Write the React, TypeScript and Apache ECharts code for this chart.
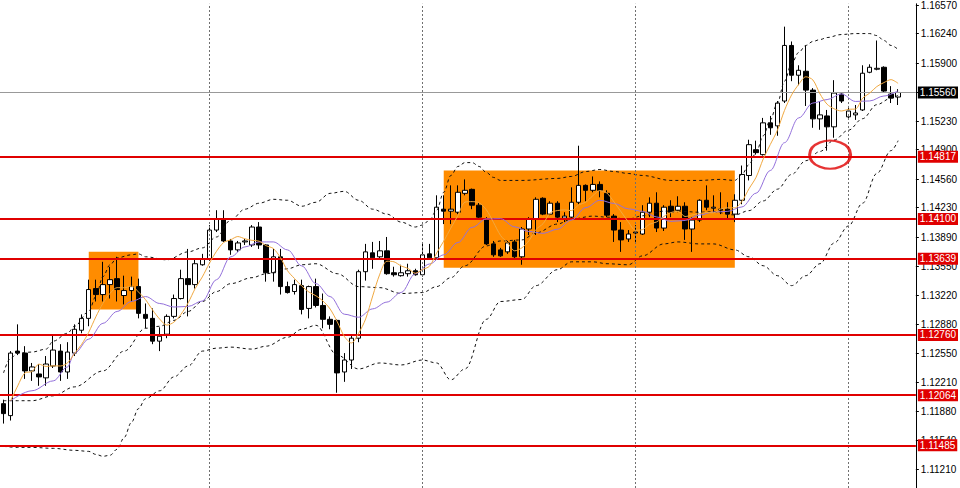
import React, { useEffect, useRef } from 'react';
import * as echarts from 'echarts';

const opens = [
  1.11966, 1.11828, 1.12573, 1.12550, 1.12344, 1.12309, 1.12264, 1.12401, 1.12573, 1.12332,
  1.12550, 1.12814, 1.12951, 1.13295, 1.13226, 1.13341, 1.13410, 1.13215, 1.13272, 1.13318,
  1.12997, 1.12951, 1.12688, 1.12768, 1.12974, 1.13180, 1.13410, 1.13341, 1.13570, 1.13639,
  1.13971, 1.14097, 1.13845, 1.13742, 1.13834, 1.13799, 1.14006, 1.13799, 1.13478, 1.13662,
  1.13318, 1.13261, 1.13329, 1.13066, 1.13318, 1.13100, 1.12940, 1.12928, 1.12332, 1.12470,
  1.12722, 1.13490, 1.13708, 1.13662, 1.13731, 1.13478, 1.13444, 1.13467, 1.13501, 1.13455,
  1.13696, 1.13650, 1.14212, 1.14189, 1.14177, 1.14395, 1.14441, 1.14258, 1.14097, 1.13811,
  1.13742, 1.13719, 1.13834, 1.13662, 1.13983, 1.14097, 1.14338, 1.14155, 1.14281, 1.14109,
  1.14120, 1.14292, 1.14487, 1.14430, 1.14498, 1.14395, 1.14132, 1.13971, 1.13868, 1.13937,
  1.13925, 1.14177, 1.14281, 1.13994, 1.14246, 1.14200, 1.14246, 1.13983, 1.14086, 1.14315,
  1.14223, 1.14212, 1.14212, 1.14155, 1.14315, 1.14601, 1.14899, 1.14842, 1.15209, 1.15174,
  1.15461, 1.16103, 1.15759, 1.15805, 1.15587, 1.15255, 1.15289, 1.15163, 1.15541, 1.15278,
  1.15301, 1.15358, 1.15793, 1.15828, 1.15851, 1.15541, 1.15507,
];
const closes = [
  1.11851, 1.12550, 1.12550, 1.12344, 1.12390, 1.12275, 1.12424, 1.12585, 1.12332, 1.12562,
  1.12825, 1.12951, 1.13284, 1.13226, 1.13341, 1.13398, 1.13284, 1.13272, 1.13318, 1.13009,
  1.12951, 1.12688, 1.12745, 1.12974, 1.13180, 1.13410, 1.13341, 1.13582, 1.13639, 1.13971,
  1.14097, 1.13845, 1.13742, 1.13822, 1.13845, 1.14006, 1.13799, 1.13478, 1.13662, 1.13318,
  1.13249, 1.13341, 1.13054, 1.13318, 1.13100, 1.12940, 1.12882, 1.12321, 1.12470, 1.12722,
  1.13490, 1.13719, 1.13650, 1.13731, 1.13467, 1.13455, 1.13478, 1.13501, 1.13455, 1.13685,
  1.13650, 1.14235, 1.14189, 1.14212, 1.14407, 1.14430, 1.14258, 1.14120, 1.13811, 1.13685,
  1.13673, 1.13822, 1.13662, 1.13983, 1.14097, 1.14326, 1.14155, 1.14281, 1.14120, 1.14132,
  1.14292, 1.14487, 1.14430, 1.14498, 1.14430, 1.14143, 1.13971, 1.13857, 1.13925, 1.13948,
  1.14177, 1.14281, 1.13994, 1.14235, 1.14177, 1.14246, 1.13983, 1.14086, 1.14315, 1.14235,
  1.14235, 1.14200, 1.14155, 1.14315, 1.14613, 1.14957, 1.14865, 1.15209, 1.15152, 1.15438,
  1.16103, 1.15759, 1.15816, 1.15587, 1.15255, 1.15301, 1.15163, 1.15553, 1.15461, 1.15346,
  1.15323, 1.15782, 1.15851, 1.15839, 1.15576, 1.15495, 1.15560,
];
const lows = [
  1.11736, 1.11771, 1.12527, 1.12252, 1.12229, 1.12172, 1.12172, 1.12378, 1.12229, 1.12252,
  1.12516, 1.12779, 1.12860, 1.13146, 1.13146, 1.13180, 1.13146, 1.13112, 1.13146, 1.12951,
  1.12837, 1.12653, 1.12573, 1.12722, 1.12951, 1.13169, 1.12974, 1.13295, 1.13559, 1.13616,
  1.13948, 1.13834, 1.13685, 1.13719, 1.13799, 1.13776, 1.13753, 1.13375, 1.13375, 1.13226,
  1.13238, 1.13226, 1.12997, 1.12951, 1.13077, 1.12837, 1.12825, 1.12092, 1.12218, 1.12367,
  1.12676, 1.13387, 1.13524, 1.13639, 1.13455, 1.13433, 1.13433, 1.13433, 1.13444, 1.13433,
  1.13627, 1.13639, 1.14040, 1.14040, 1.14155, 1.14372, 1.14212, 1.14097, 1.13799, 1.13662,
  1.13662, 1.13696, 1.13639, 1.13570, 1.13914, 1.13914, 1.14143, 1.14143, 1.14063, 1.14063,
  1.14097, 1.14269, 1.14304, 1.14407, 1.14349, 1.14120, 1.13834, 1.13719, 1.13834, 1.13834,
  1.13914, 1.14120, 1.13948, 1.13960, 1.14120, 1.14177, 1.13857, 1.13719, 1.14063, 1.14200,
  1.14177, 1.14155, 1.14097, 1.14063, 1.14269, 1.14544, 1.14842, 1.14831, 1.15071, 1.15060,
  1.15438, 1.15690, 1.15644, 1.15404, 1.15152, 1.15129, 1.14888, 1.15037, 1.15438, 1.15243,
  1.15243, 1.15346, 1.15782, 1.15816, 1.15564, 1.15438, 1.15415,
];
const highs = [
  1.12012, 1.12573, 1.12882, 1.12630, 1.12436, 1.12424, 1.12516, 1.12768, 1.12653, 1.12676,
  1.12882, 1.12997, 1.13398, 1.13398, 1.13604, 1.13547, 1.13662, 1.13444, 1.13433, 1.13410,
  1.13123, 1.13066, 1.12848, 1.12997, 1.13226, 1.13513, 1.13753, 1.13639, 1.13696, 1.14028,
  1.14200, 1.14200, 1.13868, 1.13845, 1.13868, 1.14028, 1.14063, 1.13810, 1.13753, 1.13753,
  1.13375, 1.13398, 1.13398, 1.13329, 1.13410, 1.13238, 1.12974, 1.12940, 1.12550, 1.12756,
  1.13513, 1.13811, 1.13834, 1.13845, 1.13891, 1.13547, 1.13570, 1.13582, 1.13524, 1.13811,
  1.13811, 1.14372, 1.14372, 1.14487, 1.14487, 1.14556, 1.14450, 1.14292, 1.14120, 1.13845,
  1.13765, 1.13845, 1.13857, 1.14006, 1.14120, 1.14349, 1.14349, 1.14304, 1.14304, 1.14177,
  1.14464, 1.14945, 1.14498, 1.14590, 1.14533, 1.14430, 1.14155, 1.14063, 1.13971, 1.14028,
  1.14258, 1.14349, 1.14407, 1.14258, 1.14315, 1.14361, 1.14292, 1.14120, 1.14326, 1.14487,
  1.14372, 1.14407, 1.14292, 1.14384, 1.14716, 1.15014, 1.15003, 1.15266, 1.15289, 1.15461,
  1.16320, 1.16149, 1.15874, 1.16103, 1.15610, 1.15461, 1.15358, 1.15702, 1.15553, 1.15404,
  1.15415, 1.15874, 1.15885, 1.16160, 1.15862, 1.15633, 1.15598,
];

// fast moving average (orange), one value per candle
const maFast = [
  null, 1.12000, 1.12172, 1.12321, 1.12337, 1.12422, 1.12396, 1.12403, 1.12401, 1.12436,
  1.12545, 1.12651, 1.12791, 1.12969, 1.13125, 1.13240, 1.13306, 1.13304, 1.13323, 1.13256,
  1.13167, 1.13047, 1.12942, 1.12873, 1.12908, 1.12999, 1.13130, 1.13297, 1.13430, 1.13588,
  1.13726, 1.13827, 1.13859, 1.13896, 1.13870, 1.13852, 1.13843, 1.13790, 1.13758, 1.13653,
  1.13501, 1.13410, 1.13325, 1.13256, 1.13212, 1.13151, 1.13059, 1.12912, 1.12743, 1.12667,
  1.12777, 1.12944, 1.13210, 1.13462, 1.13611, 1.13604, 1.13556, 1.13527, 1.13472, 1.13515,
  1.13554, 1.13705, 1.13843, 1.13994, 1.14138, 1.14294, 1.14299, 1.14285, 1.14205, 1.14061,
  1.13909, 1.13822, 1.13731, 1.13765, 1.13847, 1.13978, 1.14045, 1.14168, 1.14196, 1.14203,
  1.14196, 1.14262, 1.14292, 1.14368, 1.14427, 1.14397, 1.14294, 1.14180, 1.14065, 1.13969,
  1.13976, 1.14038, 1.14065, 1.14127, 1.14173, 1.14187, 1.14127, 1.14145, 1.14161, 1.14173,
  1.14170, 1.14214, 1.14228, 1.14228, 1.14303, 1.14448, 1.14581, 1.14792, 1.14959, 1.15124,
  1.15353, 1.15532, 1.15653, 1.15741, 1.15704, 1.15543, 1.15424, 1.15371, 1.15346, 1.15365,
  1.15369, 1.15493, 1.15553, 1.15628, 1.15674, 1.15708, 1.15665,
];

// slow moving average (purple), [candle index, value]
const maSlow = [
  [1, 1.12000], [4, 1.12115], [7, 1.12229], [9, 1.12390], [10, 1.12550], [12, 1.12711],
  [14, 1.12894], [16, 1.13031], [18, 1.13146], [20, 1.13203], [22, 1.13123], [24, 1.13082],
  [26, 1.13089], [28, 1.13152], [30, 1.13398], [32, 1.13662], [34, 1.13776], [36, 1.13834],
  [38, 1.13834], [40, 1.13742], [42, 1.13557], [44, 1.13352], [46, 1.13203], [48, 1.12999],
  [50, 1.12964], [52, 1.13061], [54, 1.13139], [56, 1.13250], [58, 1.13467], [60, 1.13579],
  [62, 1.13685], [64, 1.13827], [66, 1.14002], [68, 1.14099], [70, 1.14102], [72, 1.14008],
  [74, 1.13954], [76, 1.13933], [78, 1.13980], [80, 1.14087], [82, 1.14230], [84, 1.14315],
  [86, 1.14278], [88, 1.14216], [90, 1.14187], [92, 1.14122], [94, 1.14071], [96, 1.14082],
  [98, 1.14144], [100, 1.14179], [102, 1.14187], [104, 1.14238], [106, 1.14397], [108, 1.14659],
  [110, 1.14980], [112, 1.15266], [114, 1.15438], [116, 1.15478], [118, 1.15543], [120, 1.15456],
  [122, 1.15462], [124, 1.15519], [126, 1.15579],
];

// Bollinger bands, [candle index, value]
const bbUpper = [
  [0, 1.12321], [1, 1.12493], [2, 1.12550], [4, 1.12562], [6, 1.12596], [7, 1.12688], [9, 1.12779],
  [10, 1.12860], [12, 1.13031], [13, 1.13203], [14, 1.13433], [15, 1.13570], [16, 1.13650],
  [18, 1.13685], [19, 1.13696], [20, 1.13662], [23, 1.13627], [26, 1.13719], [28, 1.13765],
  [30, 1.13891], [32, 1.14086], [34, 1.14212], [36, 1.14281], [38, 1.14326], [40, 1.14315],
  [42, 1.14246], [44, 1.14292], [46, 1.14395], [48, 1.14418], [50, 1.14315], [52, 1.14212],
  [54, 1.14155], [56, 1.14063], [58, 1.14006], [59, 1.14028], [60, 1.14086], [61, 1.14200],
  [62, 1.14407], [63, 1.14601], [64, 1.14705], [65, 1.14750], [66, 1.14750], [67, 1.14705],
  [68, 1.14636], [69, 1.14579], [70, 1.14544], [73, 1.14544], [78, 1.14567], [80, 1.14590],
  [82, 1.14647], [84, 1.14670], [86, 1.14647], [88, 1.14624], [90, 1.14601], [94, 1.14544],
  [98, 1.14544], [101, 1.14556], [103, 1.14544], [104, 1.14613], [105, 1.14727], [106, 1.14865],
  [107, 1.15060], [108, 1.15243], [109, 1.15438], [110, 1.15690], [111, 1.15896], [112, 1.16022],
  [113, 1.16103], [114, 1.16149], [115, 1.16171], [116, 1.16194], [118, 1.16229], [120, 1.16240],
  [122, 1.16240], [123, 1.16217], [124, 1.16160], [125, 1.16103], [126, 1.16057],
];
const bbMiddle = [
  [0, 1.12000], [2, 1.12000], [4, 1.12000], [7, 1.12057], [10, 1.12160], [14, 1.12344],
  [17, 1.12573], [20, 1.12837], [22, 1.12860], [24, 1.12928], [26, 1.13031], [28, 1.13146],
  [30, 1.13261], [32, 1.13352], [35, 1.13421], [37, 1.13467], [40, 1.13524], [42, 1.13570],
  [44, 1.13582], [47, 1.13467], [50, 1.13318], [53, 1.13306], [56, 1.13238], [59, 1.13249],
  [61, 1.13318], [63, 1.13421], [65, 1.13559], [68, 1.13788], [70, 1.13845], [73, 1.13857],
  [75, 1.13937], [78, 1.14040], [80, 1.14097], [83, 1.14132], [85, 1.14120], [88, 1.14097],
  [90, 1.14136], [93, 1.14189], [95, 1.14189], [98, 1.14177], [100, 1.14182], [103, 1.14145],
  [105, 1.14195], [107, 1.14307], [109, 1.14443], [111, 1.14613], [113, 1.14772], [115, 1.14879],
  [117, 1.15011], [119, 1.15124], [121, 1.15257], [123, 1.15419], [125, 1.15494], [126, 1.15529],
];
const bbLower = [
  [0, 1.11473], [2, 1.11461], [4, 1.11461], [7, 1.11450], [10, 1.11427], [12, 1.11415],
  [13, 1.11380], [14, 1.11358], [15, 1.11370], [16, 1.11440], [17, 1.11576], [18, 1.11748],
  [19, 1.11908], [20, 1.12023], [22, 1.12115], [24, 1.12275], [26, 1.12401], [28, 1.12573],
  [30, 1.12607], [32, 1.12619], [35, 1.12596], [37, 1.12630], [40, 1.12733], [42, 1.12825],
  [44, 1.12871], [47, 1.12527], [50, 1.12367], [53, 1.12436], [56, 1.12413], [59, 1.12470],
  [61, 1.12436], [63, 1.12241], [65, 1.12367], [68, 1.12940], [70, 1.13146], [73, 1.13169],
  [75, 1.13329], [78, 1.13513], [80, 1.13604], [83, 1.13604], [85, 1.13582], [88, 1.13570],
  [90, 1.13673], [93, 1.13811], [95, 1.13834], [98, 1.13811], [100, 1.13811], [103, 1.13742],
  [105, 1.13662], [107, 1.13559], [109, 1.13444], [111, 1.13329], [113, 1.13444], [115, 1.13582],
  [117, 1.13822], [119, 1.14017], [121, 1.14281], [123, 1.14624], [125, 1.14888], [126, 1.15003],
];

const tickValues = [
  1.11210, 1.11540, 1.11880, 1.12210, 1.12550, 1.12880, 1.13220, 1.13550, 1.13890,
  1.14230, 1.14560, 1.14900, 1.15230, 1.15560, 1.15900, 1.16240, 1.16570,
];
const levels = [1.14817, 1.14100, 1.13639, 1.12760, 1.12064, 1.11485];
const currentPrice = 1.15560;
// zones: [from candle, top price, to candle, bottom price]
const zones = [
  [12, 1.13719, 19, 1.13054],
  [62, 1.14659, 103, 1.13536],
];
const separators = [29, 59, 89, 119];
const highlight = [116, 1.14842];

const SLOTS = 129;
const FONT = 'Liberation Sans';

export default function App() {
  const ref = useRef<HTMLDivElement>(null);
  useEffect(() => {
    const chart = echarts.init(ref.current!, null, { renderer: 'svg' });
    const cats = Array.from({ length: SLOTS }, (_, i) => String(i));
    const candleData = opens.map((o, i) => [o, closes[i], lows[i], highs[i]]);
    const fmt = (v: number) => Number(v).toFixed(5);
    const dashed = (data: any[]) => ({
      type: 'line',
      data,
      z: 4,
      smooth: 0.35,
      smoothMonotone: 'x',
      showSymbol: false,
      symbol: 'none',
      silent: true,
      connectNulls: true,
      lineStyle: { color: '#111', width: 1, type: [3, 3] },
    });
    const boxLabel = (bg: string) => ({
      show: true,
      position: 'end',
      distance: 2,
      formatter: (p: any) => fmt(p.value),
      color: '#fff',
      backgroundColor: bg,
      padding: [1, 2, 0, 2],
      fontSize: 10,
      lineHeight: 11,
      fontFamily: FONT,
    });
    const option: any = {
      animation: false,
      backgroundColor: '#ffffff',
      grid: { left: -0.86, right: 41.8, top: 0, bottom: 0, containLabel: false },
      xAxis: {
        type: 'category',
        data: cats,
        boundaryGap: true,
        axisLine: { show: false },
        axisTick: { show: false },
        axisLabel: { show: false },
        splitLine: { show: false },
      },
      yAxis: {
        type: 'value',
        position: 'right',
        min: 1.10992,
        max: 1.16584,
        axisLine: { show: true, lineStyle: { color: '#000', width: 1 } },
        axisTick: { show: true, length: 3, lineStyle: { color: '#000' }, customValues: tickValues },
        axisLabel: {
          customValues: tickValues,
          formatter: (v: number) => fmt(v),
          color: '#000',
          fontSize: 10,
          fontFamily: FONT,
          margin: 5,
        },
        splitLine: { show: false },
      },
      series: [
        {
          type: 'line',
          data: [],
          z: 1,
          silent: true,
          markArea: {
            silent: true,
            itemStyle: { color: '#ff8c00', opacity: 1 },
            data: zones.map((zn) => [
              { xAxis: zn[0], yAxis: zn[1] },
              { xAxis: zn[2], yAxis: zn[3] },
            ]),
          },
          markLine: {
            silent: true,
            precision: 5,
            symbol: ['none', 'none'],
            label: { show: false },
            lineStyle: { color: '#707070', width: 1, type: [2, 2] },
            data: separators.map((s) => ({ xAxis: s })),
          },
        },
        {
          type: 'candlestick',
          data: candleData,
          z: 3,
          barWidth: 5,
          silent: true,
          itemStyle: {
            color: '#ffffff',
            color0: '#000000',
            borderColor: '#000000',
            borderColor0: '#000000',
            borderColorDoji: '#000000',
            borderWidth: 1,
          },
        },
        dashed(bbUpper),
        dashed(bbMiddle),
        dashed(bbLower),
        {
          type: 'line',
          data: maSlow,
          z: 5,
          smooth: 0.35,
          smoothMonotone: 'x',
          showSymbol: false,
          symbol: 'none',
          silent: true,
          lineStyle: { color: '#9370db', width: 1 },
        },
        {
          type: 'line',
          data: maFast,
          z: 5,
          smooth: 0.3,
          showSymbol: false,
          symbol: 'none',
          silent: true,
          connectNulls: false,
          lineStyle: { color: '#f0a840', width: 1 },
        },
        {
          type: 'line',
          data: [],
          z: 6,
          silent: true,
          markLine: {
            silent: true,
            precision: 5,
            symbol: ['none', 'none'],
            data: [
              { yAxis: currentPrice, lineStyle: { color: '#999', width: 1, type: 'solid' }, label: boxLabel('#000') },
              ...levels.map((lv) => ({
                yAxis: lv,
                lineStyle: { color: '#e00000', width: 2, type: 'solid' },
                label: boxLabel('#e00000'),
              })),
            ],
          },
        },
        {
          type: 'scatter',
          data: [highlight],
          z: 7,
          silent: true,
          symbol: 'circle',
          symbolSize: [41, 28],
          symbolOffset: [3, 0],
          itemStyle: { color: 'rgba(0,0,0,0)', borderColor: '#e00000', borderWidth: 2.5 },
        },
      ],
    };
    chart.setOption(option);
    return () => chart.dispose();
  }, []);
  return (
    <div
      ref={ref}
      style={{ position: 'absolute', left: 0, top: 0, width: 960, height: 488, background: '#fff' }}
    />
  );
}
